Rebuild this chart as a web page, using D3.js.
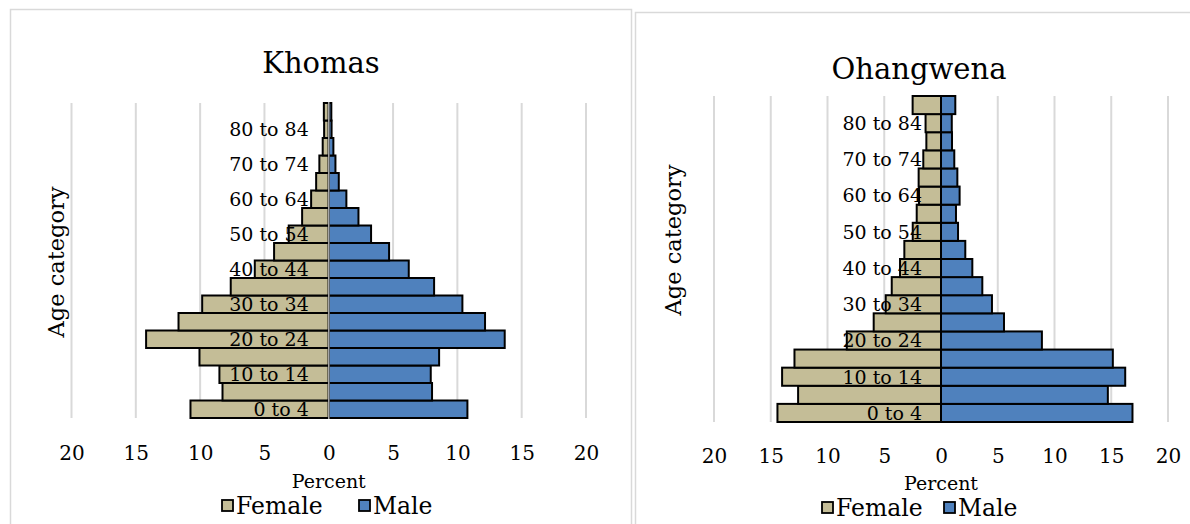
<!DOCTYPE html>
<html>
<head>
<meta charset="utf-8">
<script src="https://cdn.jsdelivr.net/npm/d3@7/dist/d3.min.js"></script>
<style>
  html, body { margin: 0; padding: 0; background: #fff; }
  svg { display: block; }
  text { font-family: "DejaVu Serif", "Liberation Serif", serif; fill: #000; }
</style>
</head>
<body>
<svg id="chart" width="1190" height="524"></svg>
<script>
// Age groups, youngest first (bottom of each pyramid)
const ageGroups = ["0 to 4", "5 to 9", "10 to 14", "15 to 19", "20 to 24", "25 to 29",
  "30 to 34", "35 to 39", "40 to 44", "45 to 49", "50 to 54", "55 to 59",
  "60 to 64", "65 to 69", "70 to 74", "75 to 79", "80 to 84", "85+"];

// Share of population (percent) by sex
const khomasFemale = [10.75, 8.26, 8.50, 10.05, 14.2, 11.68, 9.84, 7.62, 5.75, 4.25,
  3.11, 2.07, 1.37, 0.98, 0.73, 0.47, 0.36, 0.38];
const khomasMale = [10.78, 8.03, 7.93, 8.58, 13.68, 12.15, 10.39, 8.19, 6.22, 4.69,
  3.29, 2.31, 1.37, 0.78, 0.52, 0.36, 0.22, 0.2];

const ohangwenaFemale = [14.41, 12.59, 14.0, 12.91, 8.30, 5.93, 4.87, 4.34, 3.61, 3.23,
  2.49, 2.14, 1.94, 1.97, 1.56, 1.29, 1.36, 2.5];
const ohangwenaMale = [16.87, 14.70, 16.23, 15.14, 8.89, 5.55, 4.49, 3.64, 2.76, 2.14,
  1.50, 1.32, 1.64, 1.44, 1.17, 0.97, 0.95, 1.26];

const tickValues = [-20, -15, -10, -5, 0, 5, 10, 15, 20];
const seriesNames = ["Female", "Male"];

const colors = { Female: "#C4BD97", Male: "#4F81BD" };
const gridColor = "#d9d9d9";

const svg = d3.select("#chart");

function drawPyramid(opt, female, male) {
  const g = svg.append("g");

  // Panel frame
  g.append("rect")
    .attr("x", opt.frame[0]).attr("y", opt.frame[1])
    .attr("width", opt.frame[2]).attr("height", opt.frame[3])
    .attr("fill", "#fff").attr("stroke", gridColor).attr("stroke-width", 1.5);

  // Title
  g.append("text")
    .attr("x", opt.titleX).attr("y", opt.titleY)
    .attr("text-anchor", "middle")
    .style("font-size", "29px")
    .text(opt.title);

  const x = d3.scaleLinear().domain([-20, 20]).range([opt.left, opt.right]);
  const y = d3.scaleBand().domain(ageGroups).range([opt.bottom, opt.top]).padding(0);

  // Vertical gridlines
  g.append("g").selectAll("line")
    .data(tickValues.filter(v => v !== 0 || opt.zeroGrid))
    .join("line")
    .attr("x1", d => x(d)).attr("x2", d => x(d))
    .attr("y1", opt.top).attr("y2", opt.bottom)
    .attr("stroke", gridColor).attr("stroke-width", 2);

  // Female bars to the left, male bars to the right
  g.append("g").selectAll("rect")
    .data(ageGroups.map((a, i) => ({ age: a, v: female[i] })))
    .join("rect")
    .attr("x", d => x(-d.v)).attr("width", d => x(0) - x(-d.v))
    .attr("y", d => y(d.age)).attr("height", y.bandwidth())
    .attr("fill", colors.Female).attr("stroke", "#000").attr("stroke-width", 2);

  g.append("g").selectAll("rect")
    .data(ageGroups.map((a, i) => ({ age: a, v: male[i] })))
    .join("rect")
    .attr("x", x(0)).attr("width", d => x(d.v) - x(0))
    .attr("y", d => y(d.age)).attr("height", y.bandwidth())
    .attr("fill", colors.Male).attr("stroke", "#000").attr("stroke-width", 2);

  if (opt.zeroLine) {
    g.append("line")
      .attr("x1", x(0)).attr("x2", x(0))
      .attr("y1", opt.top - 1).attr("y2", opt.bottom + 1)
      .attr("stroke", "#a6a6a6").attr("stroke-width", 1.5);
  }

  // Category labels (every other group), set just left of the zero axis
  g.append("g").selectAll("text")
    .data(ageGroups.filter((a, i) => i % 2 === 0))
    .join("text")
    .attr("x", x(0) - opt.labelGap)
    .attr("y", d => y(d) + y.bandwidth() / 2)
    .attr("dy", "0.36em")
    .attr("text-anchor", "end")
    .style("font-size", "19px")
    .text(d => d);

  // Percent axis
  const axis = d3.axisBottom(x).tickValues(tickValues)
    .tickFormat(d => Math.abs(d)).tickSize(0).tickPadding(0);
  const ax = g.append("g").attr("transform", `translate(0,${opt.tickY})`).call(axis);
  ax.select(".domain").remove();
  ax.selectAll("text").attr("dy", 0).style("font-size", "20px")
    .style("font-family", '"DejaVu Serif", serif').attr("fill", "#000");

  g.append("text")
    .attr("x", x(0)).attr("y", opt.percentY)
    .attr("text-anchor", "middle").style("font-size", "19px")
    .text("Percent");

  g.append("text")
    .attr("transform", `translate(${opt.ageX},${opt.ageY}) rotate(-90)`)
    .attr("text-anchor", "middle").style("font-size", "22.5px")
    .text("Age category");

  // Legend
  const lg = g.append("g").attr("transform", `translate(${opt.legendX},${opt.legendY})`);
  const offsets = [0, opt.legendStep];
  seriesNames.forEach((name, i) => {
    lg.append("rect")
      .attr("x", offsets[i]).attr("y", -6).attr("width", 11).attr("height", 11)
      .attr("fill", colors[name]).attr("stroke", "#000").attr("stroke-width", 1.8);
    lg.append("text")
      .attr("x", offsets[i] + 14).attr("y", 0).attr("dy", "0.36em")
      .style("font-size", "23.5px")
      .text(name);
  });
}

drawPyramid({
  title: "Khomas", frame: [10.5, 9.5, 621, 530], titleX: 321, titleY: 73,
  left: 71.5, right: 586, top: 103, bottom: 418,
  zeroGrid: false, zeroLine: true, labelGap: 20,
  tickY: 460, percentY: 488, ageX: 64, ageY: 262,
  legendX: 222, legendY: 506, legendStep: 137
}, khomasFemale, khomasMale);

drawPyramid({
  title: "Ohangwena", frame: [635.5, 12.5, 570, 530], titleX: 919, titleY: 79,
  left: 714, right: 1168, top: 96, bottom: 422,
  zeroGrid: false, zeroLine: false, labelGap: 19,
  tickY: 463, percentY: 490, ageX: 681, ageY: 240,
  legendX: 822, legendY: 508, legendStep: 122
}, ohangwenaFemale, ohangwenaMale);
</script>
</body>
</html>
